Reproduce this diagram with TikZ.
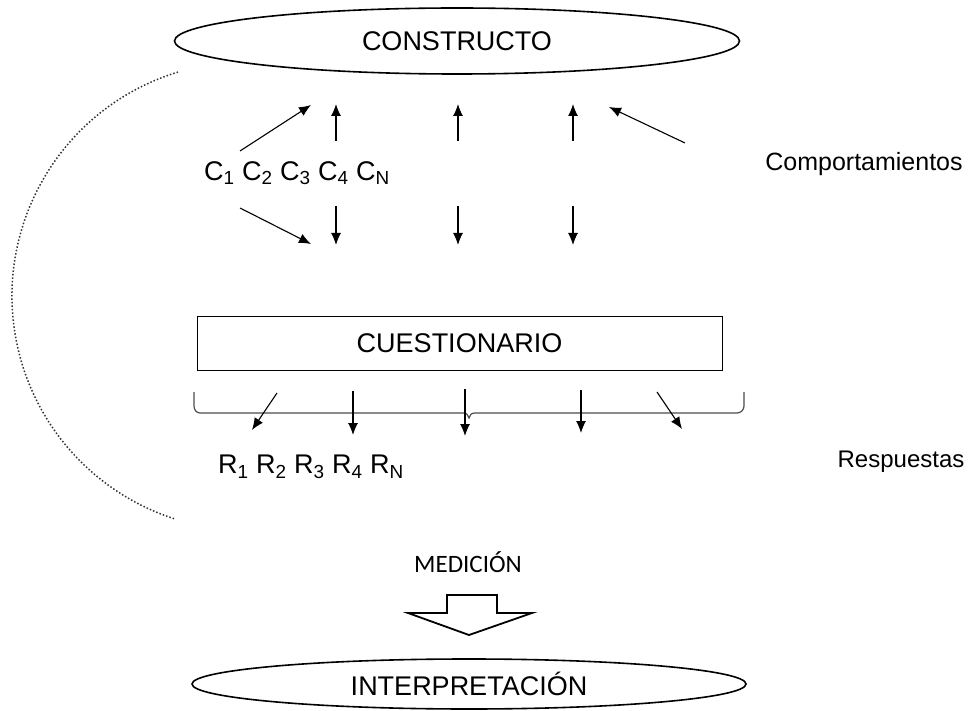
\documentclass[tikz,border=0pt]{standalone}
\usepackage{fontspec}
\setmainfont{Liberation Sans}
\newfontfamily\calibri{Carlito}
\usetikzlibrary{shapes.geometric,arrows.meta}

\begin{document}
\begin{tikzpicture}[x=1pt,y=1pt,>={Latex[length=12pt,width=10pt]},
    every node/.style={font=\fontsize{25}{30}\selectfont},
    big/.style={font=\fontsize{27}{32}\selectfont},
    oval/.style={ellipse,draw,line width=1.6pt,inner sep=0pt,big},
    arr/.style={->,line width=1.1pt}]
    \useasboundingbox (0,0) rectangle (972,-711);
    % construct and behaviours
    \node[oval, minimum width=565pt, minimum height=66pt] (constructo) at (457,-41) {CONSTRUCTO};
    \node[big] (comp) at (297,-173) {C\textsubscript{1} C\textsubscript{2} C\textsubscript{3} C\textsubscript{4} C\textsubscript{N}};
    \node (comportamientos) at (864,-164) {Comportamientos};
    % arrows up to the construct
    \coordinate (dl) at (240,-151);
    \coordinate (dlt) at (311,-105);
    \coordinate (dr) at (685,-143);
    \coordinate (drt) at (609,-107);
    \draw[arr] (dl) -- (dlt);
    \draw[arr] (dr) -- (drt);
    \foreach \x [count=\i] in {336,458,573}{
      \coordinate (cu\i) at (\x,-141);
      \coordinate (ct\i) at (\x,-104);
      \draw[arr] (cu\i) -- (ct\i);
    }
    % arrows down to the questionnaire
    \coordinate (el) at (240,-208);
    \coordinate (elt) at (311,-244);
    \draw[arr] (el) -- (elt);
    \foreach \x [count=\i] in {336,458,573}{
      \coordinate (cd\i) at (\x,-206);
      \coordinate (cb\i) at (\x,-245);
      \draw[arr] (cd\i) -- (cb\i);
    }
    % questionnaire
    \node[draw, big, line width=0.8pt, minimum width=525pt, minimum height=54pt, inner sep=0pt] (cuest) at (459.5,-343) {CUESTIONARIO};
    % brace under the questionnaire
    \draw[line width=1.2pt, black!70] (194,-392) -- (194,-406) to[out=-90,in=180] (200,-413)
      -- (463,-413) .. controls (467,-413) and (468,-415) .. (469,-418)
      .. controls (470,-415) and (471,-413) .. (475,-413)
      -- (737,-413) to[out=0,in=-90] (744,-406) -- (744,-392);
    % answers
    \coordinate (ra) at (277,-393);
    \coordinate (rat) at (252,-430);
    \coordinate (re) at (657,-392);
    \coordinate (ret) at (682,-429);
    \draw[arr] (ra) -- (rat);
    \draw[arr] (re) -- (ret);
    \foreach \x/\a/\b [count=\i] in {353/391/435,465/389/436,581/390/433}{
      \coordinate (rs\i) at (\x,-\a);
      \coordinate (rb\i) at (\x,-\b);
      \draw[arr] (rs\i) -- (rb\i);
    }
    \node[big] (resp) at (311,-467) {R\textsubscript{1} R\textsubscript{2} R\textsubscript{3} R\textsubscript{4} R\textsubscript{N}};
    \node[font=\fontsize{24}{29}\selectfont] (respuestas) at (901,-462) {Respuestas};
    % dotted arc on the left
    \draw[dotted, line width=1.5pt, black!80] (246,-296) ++(106.9:234) arc[start angle=106.9, end angle=252.4, radius=234];
    % measurement
    \node[font=\calibri\fontsize{25}{30}\selectfont] (medicion) at (468,-562) {MEDICIÓN};
    \draw[line width=1.8pt, line join=miter] (447,-595) -- (497,-595) -- (497,-613) -- (532,-613)
      -- (469,-635) -- (408,-613) -- (447,-613) -- cycle;
    \node[oval, minimum width=554pt, minimum height=50pt] (interp) at (469,-684) {INTERPRETACIÓN};
\end{tikzpicture}
\end{document}
